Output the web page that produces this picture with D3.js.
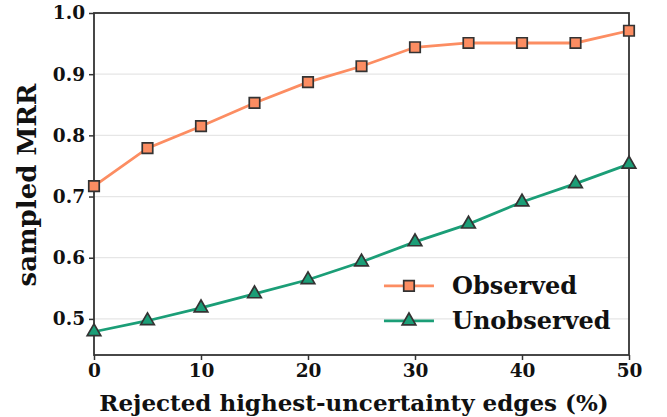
<!DOCTYPE html>
<html>
<head>
<meta charset="utf-8">
<script src="https://cdn.jsdelivr.net/npm/d3@7"></script>
<style>
  html, body { margin: 0; padding: 0; background: #fff; }
  svg text { font-family: "DejaVu Serif", serif; font-weight: bold; fill: #111; }
</style>
</head>
<body>
<svg id="chart" width="667" height="417" viewBox="0 0 667 417"></svg>
<script>
const rejected = [0, 5, 10, 15, 20, 25, 30, 35, 40, 45, 50];
const observed = [0.717, 0.779, 0.815, 0.853, 0.887, 0.913, 0.944, 0.951, 0.951, 0.951, 0.971];
const unobserved = [0.479, 0.497, 0.518, 0.541, 0.564, 0.593, 0.626, 0.655, 0.691, 0.721, 0.753];
const xTicks = [0, 10, 20, 30, 40, 50];
const yTicks = [0.5, 0.6, 0.7, 0.8, 0.9, 1.0];

const svg = d3.select("#chart");
const margin = { top: 13, right: 38, bottom: 62, left: 94 };
const width = 667 - margin.left - margin.right;
const height = 417 - margin.top - margin.bottom;

const x = d3.scaleLinear().domain([0, 50]).range([0, width]);
const y = d3.scaleLinear().domain([0.441, 1.0]).range([height, 0]);

const g = svg.append("g").attr("transform", `translate(${margin.left},${margin.top})`);

// grid
g.append("g")
  .selectAll("line")
  .data(yTicks)
  .join("line")
  .attr("x1", 0)
  .attr("x2", width)
  .attr("y1", (d) => y(d))
  .attr("y2", (d) => y(d))
  .attr("stroke", "#e6e6e6")
  .attr("stroke-width", 1.2);

// axes
const xAxis = g.append("g")
  .attr("transform", `translate(0,${height})`)
  .call(d3.axisBottom(x).tickValues(xTicks).tickSize(5).tickPadding(4).tickFormat(d3.format("d")));
const yAxis = g.append("g")
  .call(d3.axisLeft(y).tickValues(yTicks).tickSize(5).tickPadding(4).tickFormat(d3.format(".1f")));

[xAxis, yAxis].forEach((ax) => {
  ax.select(".domain").remove();
  ax.selectAll(".tick line").attr("stroke", "#333").attr("stroke-width", 1.5);
  ax.selectAll(".tick text")
    .attr("font-family", "DejaVu Serif")
    .attr("font-weight", "bold")
    .attr("font-size", 18.5)
    .attr("fill", "#111");
});

// frame
g.append("rect")
  .attr("width", width)
  .attr("height", height)
  .attr("fill", "none")
  .attr("stroke", "#333")
  .attr("stroke-width", 1.8);

const series = [
  { name: "Observed", values: observed, color: "#fc8d62", symbol: d3.symbolSquare, size: 110 },
  { name: "Unobserved", values: unobserved, color: "#1b9e77", symbol: d3.symbolTriangle, size: 80 }
];

const line = d3.line()
  .x((d) => x(d[0]))
  .y((d) => y(d[1]));

const plot = g.append("g");

series.forEach((s) => {
  const pts = rejected.map((r, i) => [r, s.values[i]]);
  plot.append("path")
    .datum(pts)
    .attr("fill", "none")
    .attr("stroke", s.color)
    .attr("stroke-width", 2.8)
    .attr("d", line);
  plot.append("g")
    .selectAll("path")
    .data(pts)
    .join("path")
    .attr("transform", (d) => `translate(${x(d[0])},${y(d[1])})`)
    .attr("d", d3.symbol().type(s.symbol).size(s.size))
    .attr("fill", s.color)
    .attr("stroke", "#333")
    .attr("stroke-width", 1.7);
});

// legend
const legend = g.append("g").attr("transform", `translate(${x(27.1)},${y(0.554)})`);
series.forEach((s, i) => {
  const row = legend.append("g").attr("transform", `translate(0,${i * 35})`);
  row.append("line")
    .attr("x1", 0).attr("x2", 50)
    .attr("stroke", s.color).attr("stroke-width", 2.8);
  row.append("path")
    .attr("transform", "translate(25,0)")
    .attr("d", d3.symbol().type(s.symbol).size(s.size))
    .attr("fill", s.color)
    .attr("stroke", "#333")
    .attr("stroke-width", 1.7);
  row.append("text")
    .attr("x", 68)
    .attr("dy", "0.35em")
    .attr("font-size", 24)
    .text(s.name);
});

// axis labels
svg.append("text")
  .attr("x", 354)
  .attr("y", 411)
  .attr("text-anchor", "middle")
  .attr("font-size", 23)
  .text("Rejected highest-uncertainty edges (%)");

svg.append("text")
  .attr("transform", `translate(36,185) rotate(-90)`)
  .attr("text-anchor", "middle")
  .attr("font-size", 26)
  .text("sampled MRR");
</script>
</body>
</html>
